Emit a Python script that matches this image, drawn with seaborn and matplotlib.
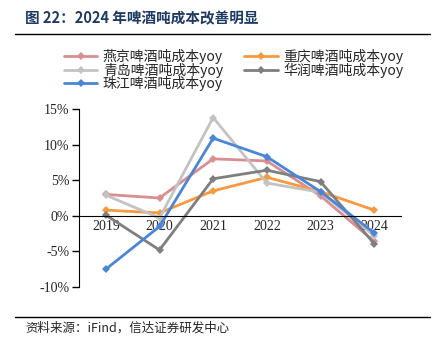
import numpy as np
import pandas as pd
import matplotlib
matplotlib.use("Agg")
import matplotlib.pyplot as plt
from matplotlib.lines import Line2D
import seaborn as sns

sns.set_style("white")
plt.rcParams['font.family'] = ['Liberation Serif', 'Noto Sans CJK SC', 'DejaVu Sans']
plt.rcParams['axes.unicode_minus'] = False

years = [2019, 2020, 2021, 2022, 2023, 2024]
yanjing = [3.0, 2.5, 8.0, 7.7, 2.8, -3.6]
chongqing = [0.8, 0.4, 3.5, 5.4, 3.4, 0.8]
tsingtao = [2.9, -0.3, 13.8, 4.6, 3.3, -2.8]
huarun = [0.1, -4.8, 5.2, 6.4, 4.8, -3.9]
zhujiang = [-7.5, -1.5, 10.9, 8.3, 3.4, -2.4]

names = ['燕京啤酒吨成本yoy', '青岛啤酒吨成本yoy', '珠江啤酒吨成本yoy',
         '重庆啤酒吨成本yoy', '华润啤酒吨成本yoy']
series = [yanjing, tsingtao, zhujiang, chongqing, huarun]
colors = ['#D98E90', '#C3C3C3', '#4A86D8', '#F7993E', '#7F7F7F']

df = pd.concat([pd.DataFrame({'year': years, 'value': v, 'name': n})
                for n, v in zip(names, series)], ignore_index=True)

fig = plt.figure(figsize=(4.34, 3.51), dpi=100)
ax = fig.add_axes([79 / 434, 1 - 287 / 351, 322 / 434, 178 / 351])

# draw order: blue ends up on top
draw_order = ['燕京啤酒吨成本yoy', '重庆啤酒吨成本yoy', '青岛啤酒吨成本yoy',
              '华润啤酒吨成本yoy', '珠江啤酒吨成本yoy']
pal = dict(zip(names, colors))
for n in draw_order:
    sns.lineplot(data=df[df['name'] == n], x='year', y='value', color=pal[n],
                 marker='D', markersize=4, markeredgewidth=0, linewidth=2,
                 ax=ax, legend=False)

ax.set_xlim(2018.5, 2024.5)
ax.set_ylim(-10, 15)
ax.set_yticks([-10, -5, 0, 5, 10, 15])
ax.set_yticklabels(['-10%', '-5%', '0%', '5%', '10%', '15%'], fontsize=10)
ax.set_xticks(years)
ax.set_xticklabels([str(y) for y in years], fontsize=10)
ax.set_xticks(np.arange(2018.5, 2025, 1), minor=True)
ax.tick_params(axis='x', which='major', length=0, pad=3)
ax.tick_params(axis='x', which='minor', direction='in', length=5, width=1, color='black')
ax.tick_params(axis='y', direction='out', length=5, width=1, color='black', pad=2, left=True)
ax.set_xlabel('')
ax.set_ylabel('')
for s in ['top', 'right']:
    ax.spines[s].set_visible(False)
ax.spines['bottom'].set_position(('data', 0))
ax.spines['bottom'].set_color('black')
ax.spines['left'].set_color('black')

handles = [Line2D([0], [0], color=c, marker='D', markersize=4, markeredgewidth=0, linewidth=2)
           for c in colors]
fig.legend(handles, names, ncol=2, loc='upper left', bbox_to_anchor=(57 / 434, 1 - 42 / 351),
           frameon=False, labelspacing=-0.1, columnspacing=1.55,
           handlelength=2.4, handletextpad=0.4, borderpad=0,
           prop={'family': ['Noto Sans CJK SC'], 'size': 10})

fig.text(25 / 434, 1 - 18 / 351, '图 22：2024 年啤酒吨成本改善明显', fontsize=10.5,
         fontweight='bold', color='#1F3A64', va='center',
         family=['Noto Sans CJK SC'])
fig.add_artist(Line2D([15 / 434, 430 / 434], [1 - 34 / 351] * 2, color='black', linewidth=1))
fig.add_artist(Line2D([15 / 434, 430 / 434], [1 - 317 / 351] * 2, color='black', linewidth=1))
fig.text(25 / 434, 1 - 328 / 351, '资料来源：iFind，信达证券研发中心', fontsize=9,
         style='italic', va='center', family=['Noto Sans CJK SC'])

fig.savefig('out.png', dpi=100)
